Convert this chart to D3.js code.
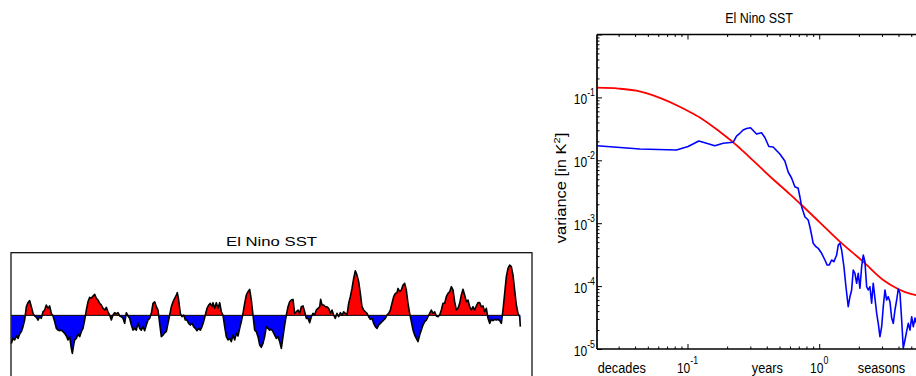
<!DOCTYPE html>
<html><head><meta charset="utf-8">
<script src="https://cdn.jsdelivr.net/npm/d3@7"></script>
<style>
body{margin:0;background:#fff}
svg{display:block}
text{font-family:"Liberation Sans",Arial,Helvetica,sans-serif;fill:#000}
</style>
</head><body>
<svg id="c" width="916" height="376"></svg>
<script>
// ---------- DATA ----------
const panelTitle = "El Nino SST";
// El Nino SST anomaly (K): [months since Jan 1880, anomaly]
const sstSeries = [
[1,-1.79],[6,-1.47],[11,-1.57],[16,-1.32],[21,-1.47],[26,-1.19],[31,-1.04],[36,-0.72],[41,-0.30],[46,0.55],
[51,0.81],[56,0.94],[61,0.55],[66,0.13],[71,-0.04],[76,-0.13],[81,-0.30],[86,-0.09],[91,-0.19],[96,0.23],
[101,0.34],[106,0.66],[111,0.45],[116,0.60],[121,0.13],[126,-0.04],[131,-0.40],[136,-0.83],[141,-0.94],[146,-0.98],
[151,-0.94],[156,-1.04],[161,-1.15],[166,-1.32],[171,-1.57],[176,-1.36],[181,-2.11],[184,-2.43],[188,-1.89],[191,-1.57],
[196,-1.47],[201,-1.19],[206,-1.36],[211,-1.04],[216,-0.83],[221,-0.30],[226,0.34],[231,0.87],[236,1.15],[241,1.09],
[246,1.23],[251,1.34],[256,1.09],[261,0.98],[266,0.77],[271,0.66],[276,0.45],[281,0.34],[286,0.51],[291,0.23],
[296,0.02],[301,-0.30],[306,0.02],[311,0.17],[316,0.09],[321,0.17],[326,-0.04],[331,-0.09],[336,-0.19],[341,-0.51],
[346,0.17],[351,-0.04],[356,-0.19],[361,-0.62],[366,-0.94],[371,-0.83],[376,-0.94],
[381,-0.51],[386,-0.83],[391,-0.94],[396,-0.72],[401,-0.98],[406,-0.62],[411,-0.30],[416,-0.19],[421,0.13],[426,0.77],
[431,0.87],[436,0.55],[441,0.34],[446,-0.51],[451,-1.36],[456,-1.26],[461,-1.11],[466,-1.04],[471,-0.51],[476,0.02],
[481,0.55],[486,0.87],[491,1.09],[496,1.30],[499,1.45],[503,0.98],[508,0.13],[513,-0.09],[518,0.02],[523,-0.30],
[528,-0.30],[533,-0.51],[538,-0.62],[543,-0.51],[548,-0.72],[553,-0.83],[558,-0.98],[563,-0.83],[568,-0.94],[573,-0.72],
[578,-0.40],[583,0.02],[588,0.45],[593,0.66],[598,0.77],[603,0.55],[606,0.81],[611,0.45],[616,0.81],[621,0.45],
[626,0.81],[631,0.23],[636,0.02],[641,-0.72],[646,-1.36],[651,-1.57],[656,-1.47],[661,-1.68],[666,-1.26],[671,-1.57],
[676,-1.15],[681,-1.32],[686,-0.83],[691,-0.40],[696,0.13],[701,0.77],[706,1.30],[711,1.51],[716,1.66],[721,0.98],
[726,0.02],[731,-0.94],[736,-1.04],[741,-1.36],[746,-1.89],[751,-2.04],[756,-1.79],[761,-1.36],[766,-0.72],
[771,-0.83],[776,-0.94],[781,-0.89],[786,-1.04],[791,-1.26],[796,-1.47],[801,-1.36],[806,-1.68],[811,-2.11],[816,-1.36],
[821,-0.62],[826,0.02],[831,0.55],[836,0.87],[841,0.98],[846,1.02],[851,0.13],[856,0.23],[861,0.34],[866,0.13],
[871,0.55],[876,0.60],[881,0.23],[886,-0.19],[891,-0.19],[896,-0.47],[901,-0.09],[906,0.13],[911,0.02],[916,0.34],
[921,0.45],[926,0.55],[929,1.02],[933,0.66],[938,0.66],[943,0.55],[948,0.55],[953,0.45],[958,0.13],[963,0.34],
[968,0.02],[973,-0.19],[978,0.13],[983,-0.09],[988,0.17],[993,0.02],[998,0.23],[1003,0.13],[1008,0.02],[1013,0.77],
[1018,1.19],[1023,1.72],[1028,2.36],[1033,2.85],[1038,2.57],[1043,2.15],[1048,1.40],[1053,0.55],[1058,0.34],[1063,0.23],
[1068,0.13],[1073,-0.09],[1078,-0.26],[1083,-0.19],[1088,-0.51],[1093,-0.72],[1098,-0.83],[1103,-0.62],[1108,-0.51],[1113,-0.40],
[1118,-0.30],[1123,-0.19],[1128,0.02],[1133,0.13],[1138,0.34],[1143,0.77],[1148,1.19],[1153,1.40],[1158,1.45],
[1161,1.72],[1166,1.51],[1171,1.62],[1176,1.94],[1181,2.04],[1186,1.62],[1191,0.77],[1196,0.13],[1201,-0.40],[1206,-0.94],
[1211,-1.26],[1216,-1.47],[1221,-1.68],[1226,-1.26],[1231,-0.94],[1236,-0.62],[1241,-0.40],[1246,-0.30],[1251,-0.09],[1256,0.13],
[1261,0.34],[1266,0.13],[1271,0.23],[1276,-0.04],[1281,-0.09],[1286,0.02],[1291,0.34],[1296,0.77],[1301,0.77],[1306,1.19],
[1311,1.40],[1316,1.51],[1321,1.83],[1326,1.62],[1331,0.87],[1336,0.34],[1341,0.45],[1346,0.77],[1351,1.30],[1356,1.66],
[1361,1.30],[1366,0.87],[1371,0.98],[1376,0.55],[1381,0.34],[1386,0.55],[1391,0.34],[1396,0.60],[1401,0.81],[1406,0.81],
[1411,0.55],[1416,0.60],[1421,0.23],[1426,0.45],[1431,-0.19],[1436,-0.51],[1441,-0.26],[1446,-0.34],[1451,-0.26],[1456,-0.30],
[1461,-0.26],[1466,-0.34],[1471,-0.51],[1476,0.34],[1481,1.40],[1486,2.47],[1491,3.00],[1496,3.21],[1501,3.11],[1506,2.57],
[1511,1.62],[1516,0.66],[1521,0.13],[1526,-0.09],[1528,-0.72]
];
const timeDomain = [0, 1563];     // months
const sstDomain = [-4, 4];         // K

// Spectrum: [frequency (1/yr), variance (K^2)]
const spectrum = [
[0.0206,0.01706],[0.0435,0.01514],[0.0825,0.01459],[0.1011,0.01656],[0.1219,0.02028],[0.1394,0.01862],[0.1612,0.01706],
[0.1865,0.01862],[0.2221,0.01932],[0.2357,0.02432],[0.2496,0.02687],[0.2646,0.03034],[0.2808,0.03206],[0.3011,0.03296],
[0.3344,0.02618],[0.3649,0.02748],[0.3867,0.02301],[0.4148,0.01656],[0.4472,0.01626],[0.5027,0.01259],[0.5487,0.00975],
[0.5813,0.006516],[0.6167,0.005233],[0.6536,0.003802],[0.6924,0.003589],[0.7133,0.002636],[0.7354,0.001828],[0.7785,0.001268],
[0.8248,0.001125],[0.8498,0.000879],[0.8754,0.000649],[0.9003,0.000479],[0.9439,0.000423],[0.9826,0.000399],[1.043,0.000332],
[1.105,0.000260],[1.150,0.000216],[1.191,0.000216],[1.242,0.000260],[1.293,0.000244],[1.356,0.000312],[1.395,0.000450],
[1.436,0.000479],[1.480,0.000375],[1.541,0.000203],[1.596,0.0000977],[1.661,0.0000470],[1.712,0.0000678],[1.763,0.0000867],
[1.813,0.000180],[1.867,0.000160],[1.924,0.000111],[1.979,0.000160],[2.038,0.0000923],[2.100,0.000203],[2.160,0.000312],
[2.225,0.000242],[2.292,0.0000977],[2.357,0.0000867],[2.428,0.0000977],[2.501,0.0000533],[2.572,0.000111],[2.650,0.0000640],
[2.731,0.0000370],[2.808,0.0000256],[2.892,0.0000157],[2.980,0.0000226],[3.064,0.0000470],[3.157,0.0000867],[3.252,0.0000601],
[3.344,0.0000678],[3.444,0.0000565],[3.549,0.0000311],[3.650,0.0000256],[3.760,0.0000417],[3.874,0.0000601],[3.983,0.0000899],
[4.104,0.0000769],[4.227,0.0000289],[4.347,0.0000103],[4.479,0.0000139],[4.615,0.0000193],[4.746,0.0000256],[4.890,0.0000200],
[5.036,0.0000326],[5.179,0.0000226],[5.336,0.0000311],[5.6,0.000022],[6.0,0.000028]
];
// Red-noise (AR1) reference spectrum
const redNoise = [
[0.02056,0.1426],[0.03,0.138],[0.04093,0.1279],[0.06166,0.0985],[0.0873,0.0712],[0.09817,0.0625],[0.1239,0.0480],[0.1758,0.0285],
[0.2223,0.01932],[0.2495,0.01560],[0.32,0.00960],[0.4467,0.00500],[0.5984,0.002900],[0.7345,0.001945],[1.0,0.001050],[1.435,0.000508],
[2.158,0.0002443],[3.062,0.000125],[3.873,0.0000923],[4.613,0.0000785],[5.333,0.0000723],[6.0,0.0000700]
];
const freqDomain = [0.02056, 6];
const varDomain = [1e-5, 1];
const yMajorTicks = [1e-5, 1e-4, 1e-3, 1e-2, 1e-1];
const yTickExponents = ["-5", "-4", "-3", "-2", "-1"];
const xMajorTicks = [0.1, 1];
const xTickExponents = ["-1", "0"];
const xWordLabels = ["decades", "years", "seasons"];
const xWordFreqs = [0.0317, 0.404, 2.97];
const yAxisLabel = ["variance [in K", "2", "]"];

// ---------- DRAW ----------
const svg = d3.select("#c");

// ===== Left panel: time series =====
const L = {x0: 11, x1: 532, y0: 252.7, y1: 378};
const xT = d3.scaleLinear().domain(timeDomain).range([L.x0, L.x1]);
const yT = d3.scaleLinear().domain(sstDomain).range([L.y1, L.y0]);
const defs = svg.append("defs");
defs.append("clipPath").attr("id","above").append("rect")
  .attr("x", L.x0).attr("y", L.y0).attr("width", L.x1-L.x0).attr("height", yT(0)-L.y0);
defs.append("clipPath").attr("id","below").append("rect")
  .attr("x", L.x0).attr("y", yT(0)).attr("width", L.x1-L.x0).attr("height", L.y1-yT(0));

const area = d3.area().x(d=>xT(d[0])).y0(yT(0)).y1(d=>yT(d[1]));
svg.append("path").datum(sstSeries).attr("d", area).attr("fill","#ff0000").attr("clip-path","url(#above)");
svg.append("path").datum(sstSeries).attr("d", area).attr("fill","#0000ff").attr("clip-path","url(#below)");
svg.append("line")
  .attr("x1", xT(sstSeries[0][0])).attr("x2", xT(sstSeries[sstSeries.length-1][0]))
  .attr("y1", yT(0)).attr("y2", yT(0)).attr("stroke","#000").attr("stroke-width",1);
svg.append("path").datum(sstSeries)
  .attr("d", d3.line().x(d=>xT(d[0])).y(d=>yT(d[1])))
  .attr("fill","none").attr("stroke","#000").attr("stroke-width",1.6).attr("stroke-linejoin","round");
svg.append("rect").attr("x",L.x0).attr("y",L.y0).attr("width",L.x1-L.x0).attr("height",L.y1-L.y0)
  .attr("fill","none").attr("stroke","#000").attr("stroke-width",1.2);
svg.append("text").attr("x",(L.x0+L.x1)/2).attr("y",246).attr("text-anchor","middle")
  .attr("font-size",13).attr("textLength",91).attr("lengthAdjust","spacingAndGlyphs").text(panelTitle);

// ===== Right panel: spectrum =====
const R = {x0: 597, x1: 921.7, y0: 34.5, y1: 349};
const xF = d3.scaleLog().domain(freqDomain).range([R.x0, R.x1]);
const yV = d3.scaleLog().domain(varDomain).range([R.y1, R.y0]);
defs.append("clipPath").attr("id","plotR").append("rect")
  .attr("x",R.x0).attr("y",R.y0).attr("width",R.x1-R.x0).attr("height",R.y1-R.y0);

const gP = svg.append("g").attr("clip-path","url(#plotR)");
gP.append("path").datum(redNoise).attr("d", d3.line().x(d=>xF(d[0])).y(d=>yV(d[1])).curve(d3.curveMonotoneX))
  .attr("fill","none").attr("stroke","#ff0000").attr("stroke-width",1.8);
gP.append("path").datum(spectrum).attr("d", d3.line().x(d=>xF(d[0])).y(d=>yV(d[1])))
  .attr("fill","none").attr("stroke","#0000ff").attr("stroke-width",1.6).attr("stroke-linejoin","round");

// minor tick values
const yMinor = [];
yMajorTicks.forEach(d => { for (let k=2;k<=9;k++) yMinor.push(k*d); });
const xMinor = [];
[0.01, 0.1, 1].forEach(d => { for (let k=1;k<=9;k++){ const v=k*d; if (v>=freqDomain[0] && v<=freqDomain[1] && xMajorTicks.indexOf(v)<0) xMinor.push(v);} });

function styleAxis(g){ g.selectAll("path.domain").remove(); g.selectAll("line").attr("stroke","#000").attr("stroke-width",1); g.selectAll("text").remove(); }
// y ticks (inside)
svg.append("g").attr("transform",`translate(${R.x0},0)`)
  .call(d3.axisLeft(yV).tickValues(yMajorTicks.concat([1])).tickSize(-5).tickFormat("")).call(styleAxis);
svg.append("g").attr("transform",`translate(${R.x0},0)`)
  .call(d3.axisLeft(yV).tickValues(yMinor).tickSize(-2.5).tickFormat("")).call(styleAxis);
// x ticks bottom and top (inside)
svg.append("g").attr("transform",`translate(0,${R.y1})`)
  .call(d3.axisBottom(xF).tickValues(xMajorTicks).tickSize(-5).tickFormat("")).call(styleAxis);
svg.append("g").attr("transform",`translate(0,${R.y1})`)
  .call(d3.axisBottom(xF).tickValues(xMinor).tickSize(-2.5).tickFormat("")).call(styleAxis);
svg.append("g").attr("transform",`translate(0,${R.y0})`)
  .call(d3.axisTop(xF).tickValues(xMajorTicks).tickSize(-5).tickFormat("")).call(styleAxis);
svg.append("g").attr("transform",`translate(0,${R.y0})`)
  .call(d3.axisTop(xF).tickValues(xMinor).tickSize(-2.5).tickFormat("")).call(styleAxis);

// axis box lines
svg.append("line").attr("x1",R.x0).attr("x2",R.x0).attr("y1",R.y0).attr("y2",R.y1).attr("stroke","#000").attr("stroke-width",1.7);
svg.append("line").attr("x1",R.x0).attr("x2",R.x1).attr("y1",R.y1).attr("y2",R.y1).attr("stroke","#000").attr("stroke-width",1.5);
svg.append("line").attr("x1",R.x0).attr("x2",R.x1).attr("y1",R.y0).attr("y2",R.y0).attr("stroke","#000").attr("stroke-width",1.5);
svg.append("line").attr("x1",R.x1).attr("x2",R.x1).attr("y1",R.y0).attr("y2",R.y1).attr("stroke","#000").attr("stroke-width",1.5);

// y tick labels
yMajorTicks.forEach((v,i) => {
  const t = svg.append("text").attr("transform",`translate(${R.x0-2},${yV(v)+6.5}) scale(0.8,1)`)
    .attr("text-anchor","end").attr("font-size",15);
  t.append("tspan").text("10");
  t.append("tspan").attr("font-size",11).attr("dy",-7.5).text(yTickExponents[i]);
});
// x tick labels
xMajorTicks.forEach((v,i) => {
  const t = svg.append("text").attr("transform",`translate(${xF(v)},372.5) scale(0.8,1)`)
    .attr("text-anchor","middle").attr("font-size",15);
  t.append("tspan").text("10");
  t.append("tspan").attr("font-size",11).attr("dy",-9).text(xTickExponents[i]);
});
xWordLabels.forEach((w,i) => {
  svg.append("text").attr("transform",`translate(${xF(xWordFreqs[i])},372.5) scale(0.85,1)`)
    .attr("text-anchor","middle").attr("font-size",15).text(w);
});
// title
svg.append("text").attr("transform",`translate(759,22.7) scale(0.83,1)`).attr("text-anchor","middle")
  .attr("font-size",15).text(panelTitle);
// y axis label
const yl = svg.append("text").attr("transform",`translate(566,188) scale(0.85,1) rotate(-90)`)
  .attr("text-anchor","middle").attr("font-size",16.5);
yl.append("tspan").text(yAxisLabel[0]);
yl.append("tspan").attr("font-size",11).attr("dy",-7).text(yAxisLabel[1]);
yl.append("tspan").attr("dy",7).text(yAxisLabel[2]);
</script>
</body></html>
